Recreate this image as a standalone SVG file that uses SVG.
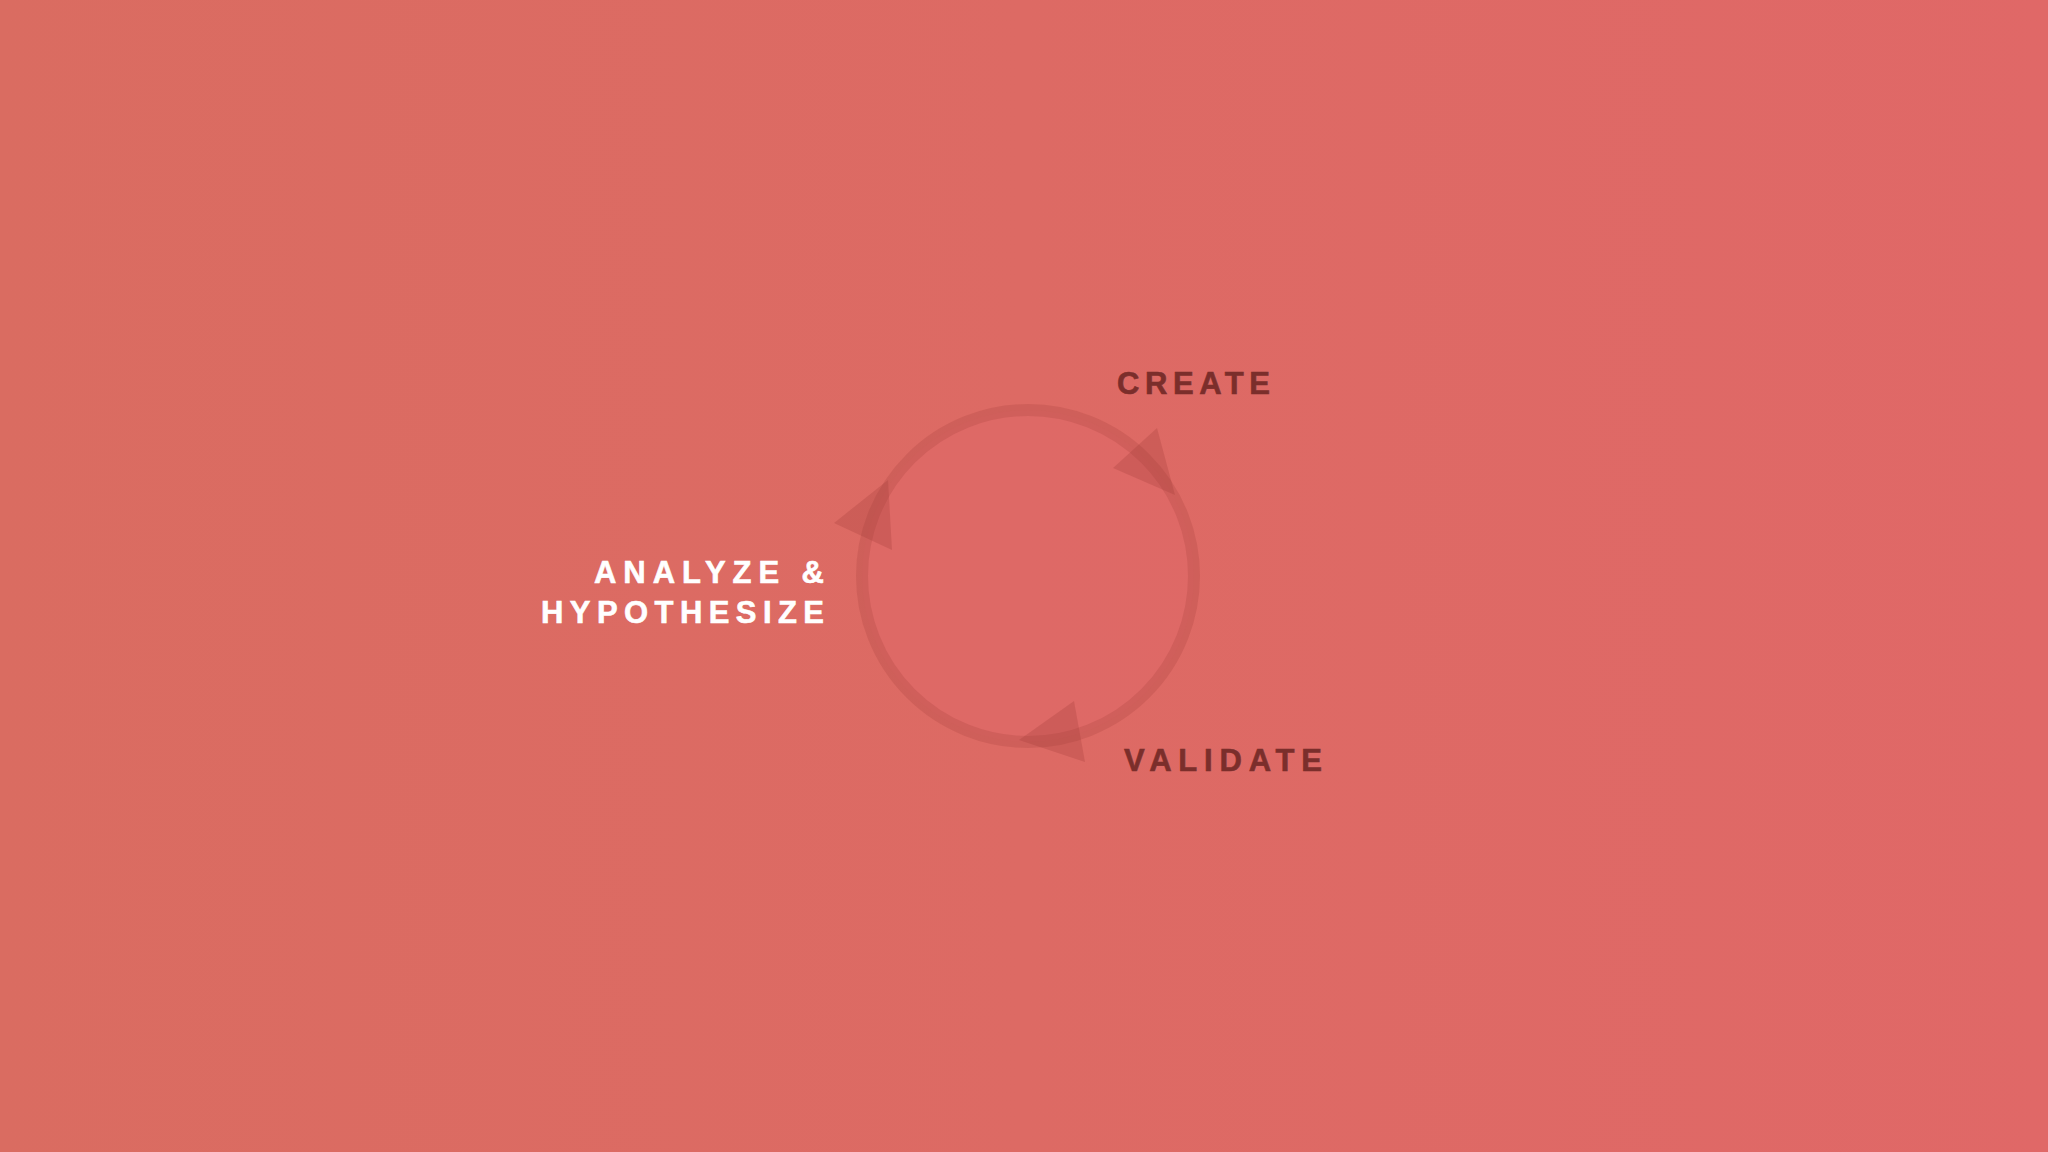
<svg xmlns="http://www.w3.org/2000/svg" width="2048" height="1152" viewBox="0 0 2048 1152">
  <defs>
    <linearGradient id="bg" x1="0" y1="0" x2="1" y2="0">
      <stop offset="0" stop-color="#DA6C61"/>
      <stop offset="1" stop-color="#E06867"/>
    </linearGradient>
    <style>
      .lbl { font-family: "Liberation Sans", Arial, sans-serif; font-weight: bold; font-size: 31px; }
      .dark { fill: #7B2E2B; stroke: #7B2E2B; stroke-width: 0.6; }
      .light { fill: #FFFFFF; stroke: #FFFFFF; stroke-width: 0.6; }
      .ring { fill: #E06868; fill-opacity: 0.5; stroke: #9E3A38; stroke-opacity: 0.22; stroke-width: 12; }
      .head { fill: #9E3A38; fill-opacity: 0.26; }
    </style>
  </defs>
  <rect width="2048" height="1152" fill="url(#bg)"/>
  <g id="connectors">
    <circle class="ring" cx="1028" cy="576" r="166"/>
    <polygon class="head" points="1157,428 1113,468 1175,495"/>
    <polygon class="head" points="888,480 834,523 892,550"/>
    <polygon class="head" points="1074,701 1019,740 1085,762"/>
  </g>
  <g id="node-create">
    <text class="lbl dark" x="1117" y="394" textLength="153" lengthAdjust="spacing">CREATE</text>
  </g>
  <g id="node-validate">
    <text class="lbl dark" x="1124" y="771" textLength="198" lengthAdjust="spacing">VALIDATE</text>
  </g>
  <g id="node-analyze">
    <text class="lbl light" x="594" y="583" textLength="230" lengthAdjust="spacing">ANALYZE &amp;</text>
    <text class="lbl light" x="541" y="623" textLength="283" lengthAdjust="spacing">HYPOTHESIZE</text>
  </g>
</svg>
